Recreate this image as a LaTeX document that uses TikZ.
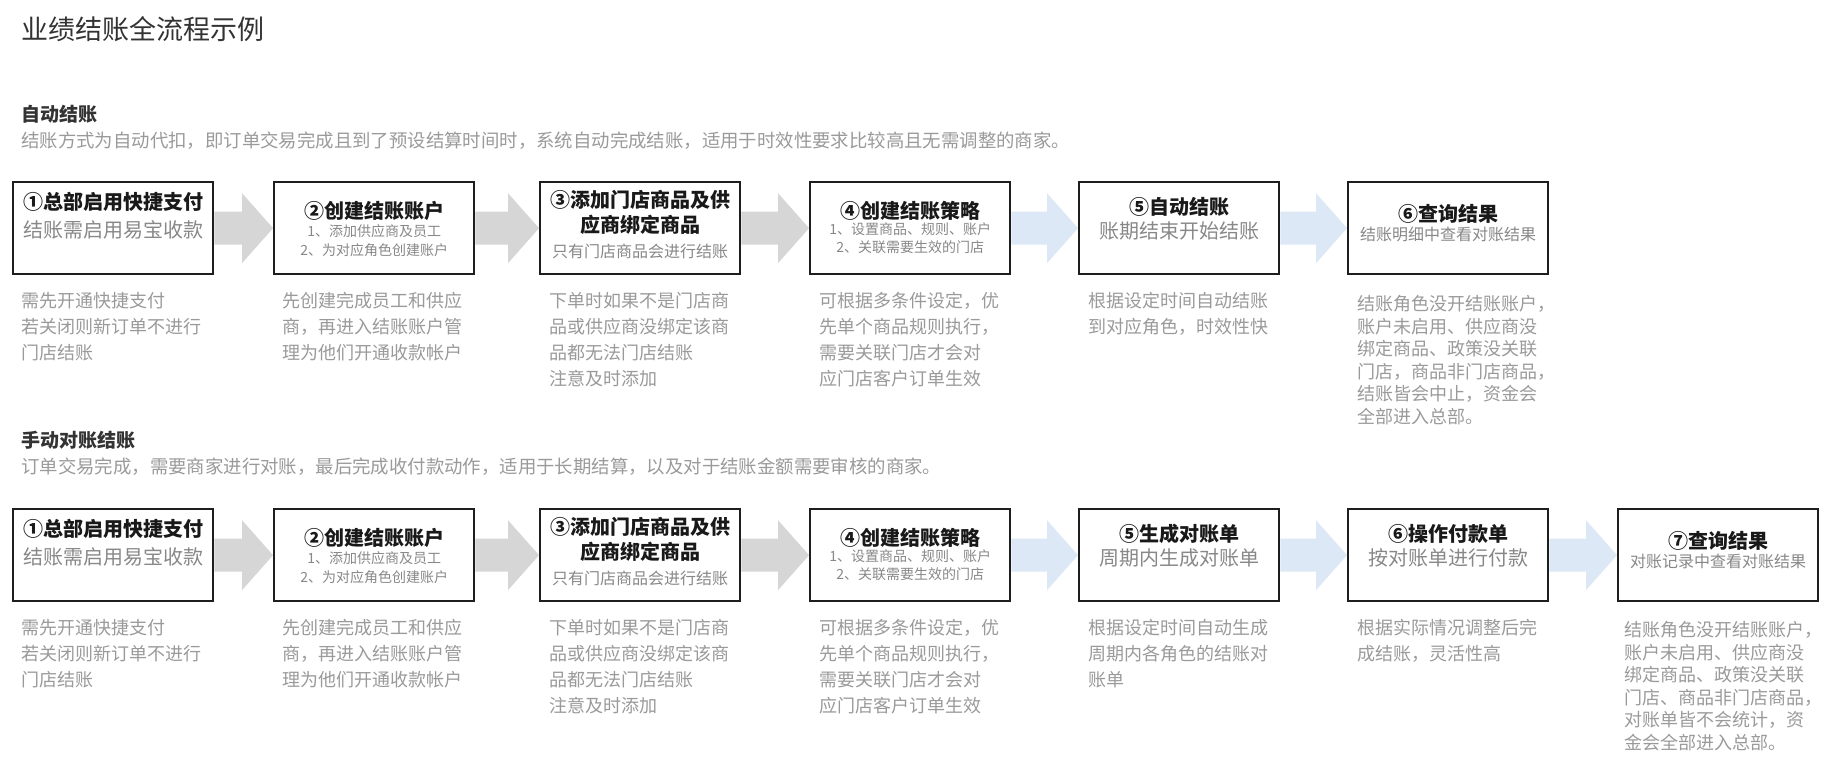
\documentclass[tikz,border=0pt]{standalone}
\usepackage{fontspec}
\setmainfont{Noto Sans CJK SC}
\usetikzlibrary{calc}
\definecolor{boxline}{HTML}{1E1E1E}
\definecolor{txtgray}{HTML}{9A9A9A}
\definecolor{subgray}{HTML}{888888}
\definecolor{arrgray}{HTML}{D6D6D6}
\definecolor{arrblue}{HTML}{DCE8F5}
\definecolor{titlecol}{HTML}{333333}
\newcommand\fsz[2]{\fontsize{#1}{#2}\selectfont}
\newcommand\flowarrow[3]{%
  \fill[#1] ($(#2.east)+(0,-16.5)$) -- ($(#3.west)+(-31,-16.5)$) -- ($(#3.west)+(-31,-35)$)
    -- (#3.west) -- ($(#3.west)+(-31,35)$) -- ($(#3.west)+(-31,16.5)$) -- ($(#2.east)+(0,16.5)$) -- cycle;}
\begin{document}
\begin{tikzpicture}[x=1pt,y=-1pt,
  stepbox/.style={draw=boxline, line width=2.4pt, minimum width=200pt, minimum height=92pt, anchor=north west, inner sep=0pt},
  btitle/.style={font=\fsz{20}{25}\bfseries, text=black!90, align=center, inner sep=0pt},
  bsub/.style={font=\fsz{20}{26}, text=subgray, inner sep=0pt},
  bsmall/.style={font=\fsz{16}{20}, text=subgray, inner sep=0pt},
  bitem/.style={font=\fsz{14}{18.5}, text=subgray, inner sep=0pt, align=center},
  note/.style={font=\fsz{18}{26}, text=txtgray, anchor=north west, align=left, inner sep=0pt},
  longnote/.style={note, font=\fsz{18}{22.6}},
  head/.style={font=\fsz{19}{22}\bfseries, text=titlecol, anchor=west, inner sep=0pt},
  desc/.style={font=\fsz{18.4}{22}, text=txtgray, anchor=west, inner sep=0pt},
]
\fill[white] (0,0) rectangle (1842,778);
\useasboundingbox (0,0) rectangle (1842,778);

\node[font=\fsz{27}{30}, text=titlecol, anchor=west, inner sep=0pt] (title) at (21,29) {业绩结账全流程示例};

% ---------- automatic ----------
\node[head] (h1) at (21,114) {自动结账};
\node[desc] (d1) at (21,141) {结账方式为自动代扣，即订单交易完成且到了预设结算时间时，系统自动完成结账，适用于时效性要求比较高且无需调整的商家。};

\node[stepbox] (a1) at (12,181) {};
\node[stepbox] (a2) at (273,181) {};
\node[stepbox] (a3) at (539,181) {};
\node[stepbox] (a4) at (809,181) {};
\node[stepbox] (a5) at (1078,181) {};
\node[stepbox] (a6) at (1347,181) {};

\node[btitle] (a1t) at ($(a1.north)+(0,21)$) {①总部启用快捷支付};
\node[bsub]   (a1s) at ($(a1.north)+(0,49)$) {结账需启用易宝收款};
\node[btitle] (a2t) at ($(a2.north)+(0,30)$) {②创建结账账户};
\node[bitem]  (a2s) at ($(a2.north)+(0,59.5)$) {1、添加供应商及员工\\2、为对应角色创建账户};
\node[btitle] (a3t) at ($(a3.north)+(0,31)$) {③添加门店商品及供\\应商绑定商品};
\node[bsmall] (a3s) at ($(a3.north)+(0,70)$) {只有门店商品会进行结账};
\node[btitle] (a4t) at ($(a4.north)+(0,30)$) {④创建结账策略};
\node[bitem]  (a4s) at ($(a4.north)+(0,57)$) {1、设置商品、规则、账户\\2、关联需要生效的门店};
\node[btitle] (a5t) at ($(a5.north)+(0,26)$) {⑤自动结账};
\node[bsub]   (a5s) at ($(a5.north)+(0,50)$) {账期结束开始结账};
\node[btitle] (a6t) at ($(a6.north)+(0,33)$) {⑥查询结果};
\node[bsmall] (a6s) at ($(a6.north)+(0,53)$) {结账明细中查看对账结果};

\flowarrow{arrgray}{a1}{a2}
\flowarrow{arrgray}{a2}{a3}
\flowarrow{arrgray}{a3}{a4}
\flowarrow{arrblue}{a4}{a5}
\flowarrow{arrblue}{a5}{a6}

\node[note] (a1n) at (21,292) {需先开通快捷支付\\若关闭则新订单不进行\\门店结账};
\node[note] (a2n) at (282,292) {先创建完成员工和供应\\商，再进入结账账户管\\理为他们开通收款帐户};
\node[note] (a3n) at (549,292) {下单时如果不是门店商\\品或供应商没绑定该商\\品都无法门店结账\\注意及时添加};
\node[note] (a4n) at (819,292) {可根据多条件设定，优\\先单个商品规则执行，\\需要关联门店才会对\\应门店客户订单生效};
\node[note] (a5n) at (1088,292) {根据设定时间自动结账\\到对应角色，时效性快};
\node[longnote] (a6n) at (1357,295) {结账角色没开结账账户，\\账户未启用、供应商没\\绑定商品、政策没关联\\门店，商品非门店商品，\\结账皆会中止，资金会\\全部进入总部。};

% ---------- manual ----------
\node[head] (h2) at (21,440) {手动对账结账};
\node[desc] (d2) at (21,467) {订单交易完成，需要商家进行对账，最后完成收付款动作，适用于长期结算，以及对于结账金额需要审核的商家。};

\node[stepbox] (m1) at (12,508) {};
\node[stepbox] (m2) at (273,508) {};
\node[stepbox] (m3) at (539,508) {};
\node[stepbox] (m4) at (809,508) {};
\node[stepbox] (m5) at (1078,508) {};
\node[stepbox] (m6) at (1347,508) {};
\node[stepbox] (m7) at (1617,508) {};

\node[btitle] (m1t) at ($(m1.north)+(0,21)$) {①总部启用快捷支付};
\node[bsub]   (m1s) at ($(m1.north)+(0,49)$) {结账需启用易宝收款};
\node[btitle] (m2t) at ($(m2.north)+(0,30)$) {②创建结账账户};
\node[bitem]  (m2s) at ($(m2.north)+(0,59.5)$) {1、添加供应商及员工\\2、为对应角色创建账户};
\node[btitle] (m3t) at ($(m3.north)+(0,31)$) {③添加门店商品及供\\应商绑定商品};
\node[bsmall] (m3s) at ($(m3.north)+(0,70)$) {只有门店商品会进行结账};
\node[btitle] (m4t) at ($(m4.north)+(0,30)$) {④创建结账策略};
\node[bitem]  (m4s) at ($(m4.north)+(0,57)$) {1、设置商品、规则、账户\\2、关联需要生效的门店};
\node[btitle] (m5t) at ($(m5.north)+(0,26)$) {⑤生成对账单};
\node[bsub]   (m5s) at ($(m5.north)+(0,50)$) {周期内生成对账单};
\node[btitle] (m6t) at ($(m6.north)+(0,26)$) {⑥操作付款单};
\node[bsub]   (m6s) at ($(m6.north)+(0,50)$) {按对账单进行付款};
\node[btitle] (m7t) at ($(m7.north)+(0,33)$) {⑦查询结果};
\node[bsmall] (m7s) at ($(m7.north)+(0,53)$) {对账记录中查看对账结果};

\flowarrow{arrgray}{m1}{m2}
\flowarrow{arrgray}{m2}{m3}
\flowarrow{arrgray}{m3}{m4}
\flowarrow{arrblue}{m4}{m5}
\flowarrow{arrblue}{m5}{m6}
\flowarrow{arrblue}{m6}{m7}

\node[note] (m1n) at (21,619) {需先开通快捷支付\\若关闭则新订单不进行\\门店结账};
\node[note] (m2n) at (282,619) {先创建完成员工和供应\\商，再进入结账账户管\\理为他们开通收款帐户};
\node[note] (m3n) at (549,619) {下单时如果不是门店商\\品或供应商没绑定该商\\品都无法门店结账\\注意及时添加};
\node[note] (m4n) at (819,619) {可根据多条件设定，优\\先单个商品规则执行，\\需要关联门店才会对\\应门店客户订单生效};
\node[note] (m5n) at (1088,619) {根据设定时间自动生成\\周期内各角色的结账对\\账单};
\node[note] (m6n) at (1357,619) {根据实际情况调整后完\\成结账，灵活性高};
\node[longnote] (m7n) at (1624,621) {结账角色没开结账账户，\\账户未启用、供应商没\\绑定商品、政策没关联\\门店、商品非门店商品，\\对账单皆不会统计，资\\金会全部进入总部。};
\end{tikzpicture}
\end{document}
